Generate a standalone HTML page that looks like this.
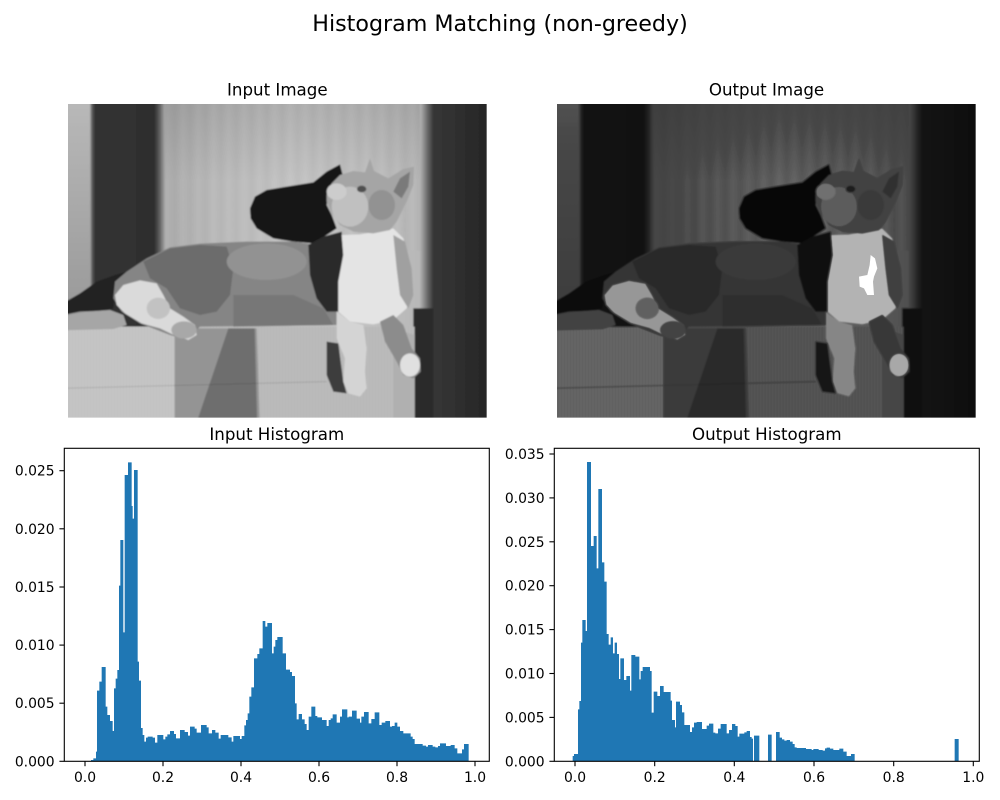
<!DOCTYPE html>
<html>
<head>
<meta charset="utf-8">
<style>
  html, body { margin: 0; padding: 0; background: #ffffff; }
  svg { display: block; }
  text { font-family: "DejaVu Sans", "Liberation Sans", sans-serif; fill: #000; }
</style>
</head>
<body>
<svg width="1000" height="800" viewBox="0 0 1000 800" xmlns="http://www.w3.org/2000/svg">
  <defs>
    <clipPath id="imclip"><rect x="24" y="27" width="1256" height="941"/></clipPath>
    <linearGradient id="curt" gradientUnits="userSpaceOnUse" x1="300" y1="0" x2="1100" y2="0">
      <stop offset="0" stop-color="#acacac"/>
      <stop offset="0.2" stop-color="#bababa"/>
      <stop offset="0.5" stop-color="#c4c4c4"/>
      <stop offset="0.8" stop-color="#c0c0c0"/>
      <stop offset="1" stop-color="#b6b6b6"/>
    </linearGradient>
    <linearGradient id="topdark" gradientUnits="userSpaceOnUse" x1="0" y1="27" x2="0" y2="260">
      <stop offset="0" stop-color="#000" stop-opacity="0.10"/>
      <stop offset="1" stop-color="#000" stop-opacity="0"/>
    </linearGradient>
    <linearGradient id="lstrip" gradientUnits="userSpaceOnUse" x1="0" y1="27" x2="0" y2="640">
      <stop offset="0" stop-color="#b8b8b8"/>
      <stop offset="1" stop-color="#9a9a9a"/>
    </linearGradient>
    <linearGradient id="dband" gradientUnits="userSpaceOnUse" x1="90" y1="0" x2="315" y2="0">
      <stop offset="0" stop-color="#a4a4a4"/>
      <stop offset="0.03" stop-color="#5a5a5a"/>
      <stop offset="0.07" stop-color="#323232"/>
      <stop offset="0.86" stop-color="#2e2e2e"/>
      <stop offset="0.93" stop-color="#606060"/>
      <stop offset="1" stop-color="#a8a8a8"/>
    </linearGradient>
    <linearGradient id="rdark" gradientUnits="userSpaceOnUse" x1="1080" y1="0" x2="1280" y2="0">
      <stop offset="0" stop-color="#b4b4b4"/>
      <stop offset="0.1" stop-color="#727272"/>
      <stop offset="0.2" stop-color="#363636"/>
      <stop offset="1" stop-color="#262626"/>
    </linearGradient>
    <linearGradient id="sg" gradientUnits="userSpaceOnUse" x1="0" y1="0" x2="46" y2="0">
      <stop offset="0" stop-color="#fff" stop-opacity="0.03"/>
      <stop offset="0.5" stop-color="#000" stop-opacity="0.03"/>
      <stop offset="1" stop-color="#fff" stop-opacity="0.03"/>
    </linearGradient>
    <pattern id="stripes" patternUnits="userSpaceOnUse" width="46" height="20">
      <rect width="46" height="20" fill="url(#sg)"/>
    </pattern>
    <pattern id="weave" patternUnits="userSpaceOnUse" width="9" height="20">
      <rect x="0" y="0" width="2" height="20" fill="#000" fill-opacity="0.05"/>
    </pattern>
    <filter id="soft" filterUnits="userSpaceOnUse" x="-50" y="-50" width="1400" height="1100">
      <feGaussianBlur stdDeviation="2"/>
    </filter>
    <filter id="dk" color-interpolation-filters="sRGB" filterUnits="userSpaceOnUse" x="0" y="0" width="1320" height="1000">
      <feComponentTransfer>
        <feFuncR type="table" tableValues="0 0.035 0.075 0.11 0.15 0.2 0.24 0.28 0.44 0.72 0.9"/>
        <feFuncG type="table" tableValues="0 0.035 0.075 0.11 0.15 0.2 0.24 0.28 0.44 0.72 0.9"/>
        <feFuncB type="table" tableValues="0 0.035 0.075 0.11 0.15 0.2 0.24 0.28 0.44 0.72 0.9"/>
      </feComponentTransfer>
    </filter>

    <g id="cat" clip-path="url(#imclip)">
     <g filter="url(#soft)">
      <!-- background curtain -->
      <rect x="0" y="0" width="1320" height="1000" fill="url(#curt)"/>
      <rect x="300" y="0" width="800" height="467" fill="url(#stripes)"/>
      <rect x="0" y="0" width="1320" height="267" fill="url(#topdark)"/>
      <rect x="0" y="0" width="100" height="1000" fill="url(#lstrip)"/>
      <rect x="90" y="0" width="225" height="1000" fill="url(#dband)"/>
      <rect x="1080" y="0" width="240" height="1000" fill="url(#rdark)"/>
      <rect x="1060" y="640" width="60" height="360" fill="#2c2c2c"/>
      <!-- cat shadow on curtain -->
      <polygon fill="#141414" points="570,340 585,305 620,285 680,275 760,262 800,230 840,208 848,240 825,275 805,300 800,330 815,360 830,400 800,420 760,445 700,440 640,430 590,400 572,370"/>
      <!-- dark tail / shadow on left -->
      <polygon fill="#222222" points="0,630 60,595 110,560 165,540 210,528 180,560 165,600 160,640 120,648 60,650 0,662"/>
      <!-- couch -->
      <rect x="0" y="695" width="1064" height="305" fill="#bcbcbc"/>
      <rect x="0" y="695" width="344" height="305" fill="#c6c6c6"/>
      <rect x="0" y="695" width="1064" height="305" fill="url(#weave)"/>
      <polygon fill="#949494" points="344,700 590,700 600,1000 344,1000"/>
      <polygon fill="#6e6e6e" points="505,700 584,700 592,1000 404,1000"/>
      <polygon fill="#b0b0b0" points="1000,700 1064,720 1064,1000 1000,1000"/>
      <line x1="0" y1="880" x2="800" y2="860" stroke="#000" stroke-opacity="0.12" stroke-width="3"/>
      <!-- tail on couch -->
      <polygon fill="#a6a6a6" points="0,665 80,650 150,645 190,660 200,690 160,702 0,706"/>
      <!-- body -->
      <polygon fill="#858585" points="165,560 200,530 260,490 330,457 420,446 560,440 700,440 770,450 800,440 830,600 830,690 420,695 380,735 330,720 240,685 185,650 160,610"/>
      <polygon fill="#6c6c6c" points="250,500 330,460 420,450 500,455 520,520 510,600 470,650 420,660 360,640 320,580 270,550"/>
      <ellipse cx="620" cy="500" rx="120" ry="55" fill="#929292"/>
      <polygon fill="#777777" points="520,600 700,600 790,640 820,690 520,695"/>
      <!-- white haunch -->
      <polygon fill="#dadada" points="165,600 190,570 240,556 290,565 310,600 330,640 370,665 405,690 410,720 385,735 345,722 300,700 245,685 195,655 170,630"/>
      <ellipse cx="295" cy="640" rx="35" ry="32" fill="#c2c2c2"/>
      <ellipse cx="372" cy="705" rx="38" ry="26" fill="#a8a8a8"/>
      <!-- dark neck -->
      <polygon fill="#2a2a2a" points="745,450 790,425 845,410 850,480 835,560 835,650 800,650 770,610 750,540"/>
      <!-- chest -->
      <polygon fill="#e4e4e4" points="845,420 900,418 960,408 1000,400 1030,430 1050,500 1055,580 1040,640 1000,675 940,688 870,680 835,650 835,560 850,480"/>
      <polygon fill="#a0a0a0" points="1000,420 1035,440 1055,520 1060,600 1045,640 1020,600 1010,520"/>
      <!-- head -->
      <polygon fill="#a5a5a5" points="800,300 815,265 840,240 880,228 915,232 930,190 942,228 985,250 1030,222 1062,215 1060,270 1040,320 1010,380 990,405 940,415 880,410 840,390 815,355 800,320"/>
      <ellipse cx="965" cy="330" rx="40" ry="45" fill="#929292"/>
      <ellipse cx="870" cy="335" rx="55" ry="60" fill="#c0c0c0"/>
      <ellipse cx="830" cy="290" rx="30" ry="25" fill="#cccccc"/>
      <ellipse cx="905" cy="282" rx="14" ry="10" fill="#505050"/>
      <polygon fill="#7a7a7a" points="1000,290 1020,250 1050,230 1045,275 1025,310"/>
      <!-- front legs -->
      <polygon fill="#3c3c3c" points="800,740 835,745 850,860 860,895 820,890 800,840"/>
      <polygon fill="#d4d4d4" points="830,650 870,680 910,690 920,760 915,830 920,880 900,905 865,895 850,860 855,790 830,730"/>
      <polygon fill="#8c8c8c" points="960,680 1000,660 1030,690 1055,760 1080,790 1082,830 1060,850 1030,840 1010,800 975,740"/>
      <ellipse cx="1050" cy="810" rx="30" ry="35" fill="#e0e0e0"/>
     </g>
    </g>
  </defs>

  <!-- Suptitle -->
  <text x="500" y="31" font-size="22.2" text-anchor="middle">Histogram Matching (non-greedy)</text>

  <!-- Images -->
  <text x="277.3" y="95.7" font-size="16.67" text-anchor="middle">Input Image</text>
  <g transform="translate(60,95) scale(0.33333)">
    <use href="#cat"/>
  </g>

  <text x="766.5" y="95.7" font-size="16.67" text-anchor="middle">Output Image</text>
  <g transform="translate(549,95) scale(0.33333)">
    <g filter="url(#dk)">
      <use href="#cat"/>
    </g>
    <polygon fill="#ffffff" points="965,480 978,490 985,520 975,545 972,560 975,600 955,600 945,580 932,575 930,545 955,540 962,510"/>
  </g>

  <!-- Input Histogram -->
  <text x="276.8" y="440" font-size="16.67" text-anchor="middle">Input Histogram</text>
  <g transform="translate(60,440) scale(0.33333)">
    <path fill="#1f77b4" d="M93 964 V960 H100 V955 H108 V935 H111 V752 H118 V725 H125 V681 H137 V800 H142 V825 H150 V843 H158 V873 H162 V745 H167 V716 H172 V690 H177 V437 H181 V300 H190 V577 H194 V105 H204 V67 H215 V198 H218 V236 H222 V90 H233 V665 H237 V722 H243 V864 H248 V885 H253 V905 H258 V893 H263 V890 H278 V893 H285 V908 H292 V885 H310 V898 H316 V890 H322 V883 H330 V873 H342 V882 H348 V895 H360 V870 H374 V876 H384 V887 H390 V860 H404 V866 H410 V878 H423 V855 H440 V862 H446 V880 H456 V870 H466 V878 H476 V896 H482 V885 H505 V892 H515 V905 H520 V888 H540 V897 H545 V888 H553 V856 H558 V840 H563 V820 H568 V770 H574 V742 H582 V655 H592 V642 H598 V625 H608 V543 H616 V560 H622 V549 H636 V640 H641 V620 H646 V600 H652 V591 H668 V640 H678 V689 H690 V696 H696 V708 H705 V790 H710 V838 H716 V822 H726 V838 H734 V852 H740 V870 H746 V830 H754 V800 H766 V828 H772 V832 H786 V840 H800 V858 H806 V840 H812 V835 H818 V823 H830 V848 H840 V830 H846 V808 H862 V832 H866 V830 H876 V812 H890 V836 H900 V848 H904 V830 H912 V816 H926 V850 H934 V837 H944 V817 H958 V855 H965 V848 H976 V843 H990 V860 H996 V858 H1004 V848 H1012 V860 H1020 V873 H1030 V880 H1052 V890 H1058 V897 H1064 V912 H1088 V917 H1098 V920 H1104 V915 H1118 V920 H1126 V922 H1134 V918 H1140 V910 H1158 V918 H1172 V915 H1184 V925 H1192 V940 H1206 V928 H1212 V912 H1226 V964 Z"/>
  </g>
  <rect x="64.3" y="448.3" width="425" height="313" fill="none" stroke="#000" stroke-width="1.1"/>
  <g stroke="#000" stroke-width="1.1">
    <line x1="85" y1="761.3" x2="85" y2="766.2"/>
    <line x1="163" y1="761.3" x2="163" y2="766.2"/>
    <line x1="241" y1="761.3" x2="241" y2="766.2"/>
    <line x1="319" y1="761.3" x2="319" y2="766.2"/>
    <line x1="397" y1="761.3" x2="397" y2="766.2"/>
    <line x1="475" y1="761.3" x2="475" y2="766.2"/>
    <line x1="59.4" y1="761.3" x2="64.3" y2="761.3"/>
    <line x1="59.4" y1="703.2" x2="64.3" y2="703.2"/>
    <line x1="59.4" y1="645.1" x2="64.3" y2="645.1"/>
    <line x1="59.4" y1="587.0" x2="64.3" y2="587.0"/>
    <line x1="59.4" y1="528.8" x2="64.3" y2="528.8"/>
    <line x1="59.4" y1="470.7" x2="64.3" y2="470.7"/>
  </g>
  <g font-size="13.9" text-anchor="middle">
    <text x="85" y="782">0.0</text>
    <text x="163" y="782">0.2</text>
    <text x="241" y="782">0.4</text>
    <text x="319" y="782">0.6</text>
    <text x="397" y="782">0.8</text>
    <text x="475" y="782">1.0</text>
  </g>
  <g font-size="13.9" text-anchor="end">
    <text x="54.6" y="766.3">0.000</text>
    <text x="54.6" y="708.2">0.005</text>
    <text x="54.6" y="650.1">0.010</text>
    <text x="54.6" y="592.0">0.015</text>
    <text x="54.6" y="533.8">0.020</text>
    <text x="54.6" y="475.7">0.025</text>
  </g>

  <!-- Output Histogram -->
  <text x="766.8" y="440" font-size="16.67" text-anchor="middle">Output Histogram</text>
  <g transform="translate(550,440) scale(0.33333)">
    <path fill="#1f77b4" d="M68 964 V948 H72 V942 H84 V808 H88 V783 H93 V608 H97 V540 H107 V573 H111 V66 H123 V318 H131 V288 H140 V385 H145 V147 H156 V367 H163 V425 H170 V582 H176 V614 H182 V592 H189 V640 H194 V608 H201 V642 H207 V717 H211 V655 H222 V720 H229 V708 H240 V752 H244 V645 H256 V650 H268 V718 H272 V693 H278 V681 H300 V693 H305 V818 H311 V755 H322 V768 H330 V738 H341 V756 H362 V782 H366 V840 H375 V862 H378 V785 H390 V795 H396 V817 H403 V855 H420 V876 H426 V862 H432 V848 H440 V846 H456 V867 H470 V857 H477 V851 H490 V878 H496 V880 H504 V866 H512 V852 H530 V880 H537 V870 H546 V852 H556 V858 H563 V890 H568 V881 H583 V877 H590 V873 H600 V891 H605 V896 H609 V964 H612 V887 H628 V964 H654 V884 H665 V964 H678 V876 H689 V893 H696 V898 H703 V902 H710 V900 H720 V905 H728 V912 H734 V922 H740 V924 H768 V927 H785 V930 H790 V927 H806 V930 H818 V932 H825 V925 H830 V923 H840 V926 H850 V930 H868 V926 H880 V935 H890 V948 H903 V942 H914 V964 Z M1214 964 V897 H1226 V964 Z"/>
  </g>
  <rect x="554.3" y="448.3" width="425" height="313" fill="none" stroke="#000" stroke-width="1.1"/>
  <g stroke="#000" stroke-width="1.1">
    <line x1="575" y1="761.3" x2="575" y2="766.2"/>
    <line x1="654.7" y1="761.3" x2="654.7" y2="766.2"/>
    <line x1="734.3" y1="761.3" x2="734.3" y2="766.2"/>
    <line x1="814" y1="761.3" x2="814" y2="766.2"/>
    <line x1="893.7" y1="761.3" x2="893.7" y2="766.2"/>
    <line x1="973.3" y1="761.3" x2="973.3" y2="766.2"/>
    <line x1="549.4" y1="761.3" x2="554.3" y2="761.3"/>
    <line x1="549.4" y1="717.4" x2="554.3" y2="717.4"/>
    <line x1="549.4" y1="673.5" x2="554.3" y2="673.5"/>
    <line x1="549.4" y1="629.6" x2="554.3" y2="629.6"/>
    <line x1="549.4" y1="585.7" x2="554.3" y2="585.7"/>
    <line x1="549.4" y1="541.8" x2="554.3" y2="541.8"/>
    <line x1="549.4" y1="497.9" x2="554.3" y2="497.9"/>
    <line x1="549.4" y1="454.0" x2="554.3" y2="454.0"/>
  </g>
  <g font-size="13.9" text-anchor="middle">
    <text x="575" y="782">0.0</text>
    <text x="654.7" y="782">0.2</text>
    <text x="734.3" y="782">0.4</text>
    <text x="814" y="782">0.6</text>
    <text x="893.7" y="782">0.8</text>
    <text x="973.3" y="782">1.0</text>
  </g>
  <g font-size="13.9" text-anchor="end">
    <text x="544.6" y="766.3">0.000</text>
    <text x="544.6" y="722.4">0.005</text>
    <text x="544.6" y="678.5">0.010</text>
    <text x="544.6" y="634.6">0.015</text>
    <text x="544.6" y="590.7">0.020</text>
    <text x="544.6" y="546.8">0.025</text>
    <text x="544.6" y="502.9">0.030</text>
    <text x="544.6" y="459.0">0.035</text>
  </g>
</svg>
</body>
</html>
